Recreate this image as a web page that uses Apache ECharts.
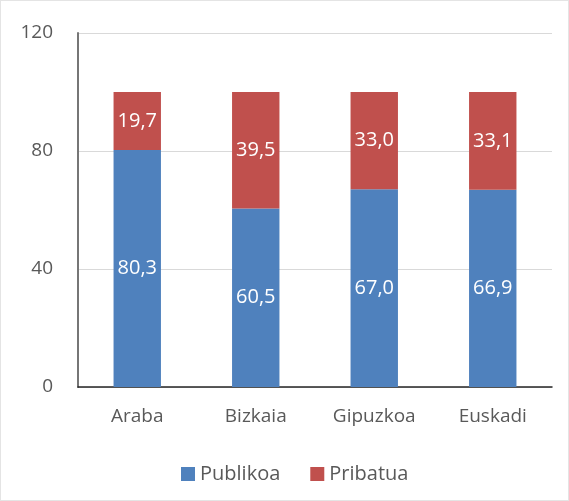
<!DOCTYPE html>
<html>
<head>
<meta charset="utf-8">
<script src="https://cdn.jsdelivr.net/npm/echarts@6/dist/echarts.min.js"></script>
<style>
  html, body { margin: 0; padding: 0; background: #fff; }
  #chart { width: 569px; height: 501px; box-sizing: border-box; border: 1px solid #e4e4e4; }
</style>
</head>
<body>
<div id="chart"></div>
<script>
// Data.
const categories = ['Araba', 'Bizkaia', 'Gipuzkoa', 'Euskadi'];
const publikoa = [80.3, 60.5, 67.0, 66.9];
const pribatua = [19.7, 39.5, 33.0, 33.1];

const fontFamily = '"Open Sans", "Liberation Sans", sans-serif';
const fmt = (p) => p.value.toFixed(1).replace('.', ',');

const chart = echarts.init(document.getElementById('chart'));

chart.setOption({
  animation: false,
  textStyle: { fontFamily: fontFamily },
  grid: { left: 77, right: 16, top: 32, bottom: 113 },
  legend: {
    top: 458,
    left: 175,
    itemWidth: 14,
    itemHeight: 14,
    itemGap: 30,
    icon: 'rect',
    textStyle: { fontSize: 20, color: '#595959', fontFamily: fontFamily },
    data: ['Publikoa', 'Pribatua']
  },
  xAxis: {
    type: 'category',
    data: categories,
    axisLine: { lineStyle: { color: '#262626', width: 1.5 } },
    axisTick: { show: false },
    axisLabel: { fontSize: 19, color: '#595959', margin: 20 }
  },
  yAxis: {
    type: 'value',
    min: 0,
    max: 120,
    interval: 40,
    axisLine: { show: true, lineStyle: { color: '#767676', width: 2 } },
    axisTick: { show: false },
    splitLine: { lineStyle: { color: '#d9d9d9' } },
    axisLabel: { fontSize: 19, color: '#595959', margin: 25 }
  },
  series: [
    {
      name: 'Publikoa',
      type: 'bar',
      stack: 'total',
      barWidth: '40%',
      data: publikoa,
      itemStyle: { color: '#4F81BD' },
      label: { show: true, position: 'inside', color: '#fff', fontSize: 20, formatter: fmt }
    },
    {
      name: 'Pribatua',
      type: 'bar',
      stack: 'total',
      barWidth: '40%',
      data: pribatua,
      itemStyle: { color: '#C0504D' },
      label: { show: true, position: 'inside', color: '#fff', fontSize: 20, formatter: fmt }
    }
  ]
});
</script>
</body>
</html>
